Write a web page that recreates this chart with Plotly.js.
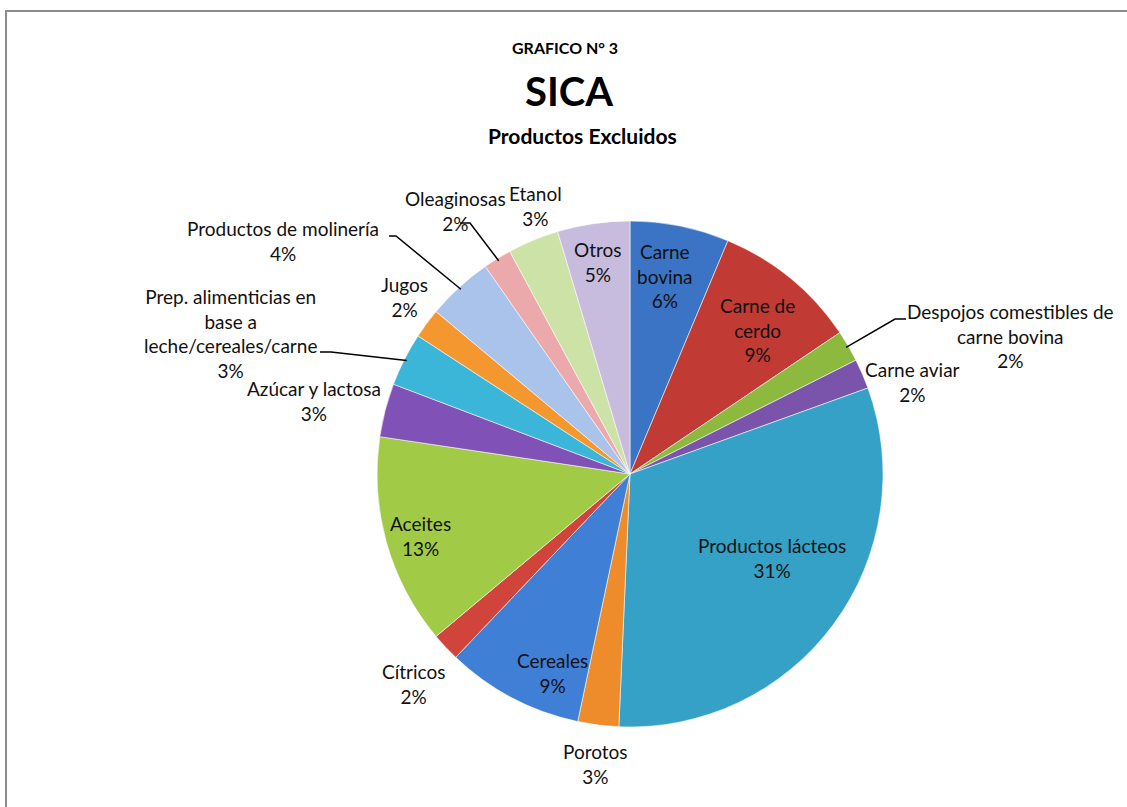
<!DOCTYPE html>
<html><head><meta charset="utf-8">
<script src="https://cdn.plot.ly/plotly-3.0.1.min.js"></script>
<style>html,body{margin:0;padding:0;background:#fff;overflow:hidden}#chart{width:1127px;height:807px}</style>
</head><body><div id="chart"></div>
<script>
// ---- data ----
const categories = ["Carne bovina","Carne de cerdo","Despojos comestibles de carne bovina","Carne aviar","Productos lácteos","Porotos","Cereales","Cítricos","Aceites","Azúcar y lactosa","Prep. alimenticias en base a leche/cereales/carne","Jugos","Productos de molinería","Oleaginosas","Etanol","Otros"];
const values = [6.3, 9.2, 2.0, 1.9, 31.1, 2.6, 8.75, 1.8, 13.4, 3.4, 3.4, 1.9, 4.2, 1.8, 3.25, 4.6];
const displayLabels = ["Carne<br>bovina","Carne de<br>cerdo","Despojos comestibles de<br>carne bovina","Carne aviar","Productos lácteos","Porotos","Cereales","Cítricos","Aceites","Azúcar y lactosa","Prep. alimenticias en<br>base a<br>leche/cereales/carne","Jugos","Productos de molinería","Oleaginosas","Etanol","Otros"];
const titleTop = "GRAFICO N° 3";
const titleMain = "SICA";
const titleSub = "Productos Excluidos";

// ---- style ----
const colors = ["#3B74C4","#C13A33","#8DB93E","#7A54AA","#35A1C6","#EE8B2B","#3F80D6","#D0443B","#A1CB47","#8051B7","#3BB5D8","#F4972E","#A9C3EB","#EBA9AB","#CDE2A6","#C8BCDE"];
const W = 1127, H = 807, CX = 630, CY = 474, R = 253;
const labelPos = [[665,276],[757,330],[1010,336],[912,382],[772,558],[595,764],[552,673],[413,684],[420,536],[314,401],[230,333],[404,297],[283,241],[455,211],[535,206],[598,262]];
const leaderElbows = {2:[[906,319],[895,319]], 10:[[320,352],[331,352]], 12:[[389,236],[396,236]], 13:[[460,223],[470,223]]};
const FONT = "Lato, 'Open Sans', sans-serif";

const px = x => x / W, py = y => 1 - y / H;
const total = values.reduce((a,b)=>a+b,0);

const annotations = [];
values.forEach((v,i)=>{
  const pct = Math.round(v/total*100) + '%';
  annotations.push({
    text: displayLabels[i] + '<br>' + pct,
    x: px(labelPos[i][0]), y: py(labelPos[i][1]), xref:'paper', yref:'paper',
    xanchor:'center', yanchor:'middle', align:'center', showarrow:false,
    font:{family:FONT, size:19, color:'#111'}
  });
});
annotations.push({text:'<b>'+titleTop+'</b>', x:px(565), y:py(48), xref:'paper', yref:'paper', xanchor:'center', yanchor:'middle', showarrow:false, font:{family:FONT,size:16,color:'#000'}});
annotations.push({text:'<b>'+titleSub+'</b>', x:px(582), y:py(135), xref:'paper', yref:'paper', xanchor:'center', yanchor:'middle', showarrow:false, font:{family:FONT,size:21,color:'#000'}});

const shapes = [{type:'path', xref:'paper', yref:'paper', path:`M ${px(6)} 0 L ${px(6)} ${py(11)} L 1 ${py(11)}`, line:{color:'#8c8c8c', width:2}}];
let cum = 0;
values.forEach((v,i)=>{
  const mid = (cum + v/2)/total * 2*Math.PI;
  cum += v;
  if (leaderElbows[i]) {
    const e = leaderElbows[i];
    const ex = CX + R*0.99*Math.sin(mid), ey = CY - R*0.99*Math.cos(mid);
    const path = `M ${px(e[0][0])} ${py(e[0][1])} L ${px(e[1][0])} ${py(e[1][1])} L ${px(ex)} ${py(ey)}`;
    shapes.push({type:'path', xref:'paper', yref:'paper', path:path, line:{color:'#000', width:1.5}});
  }
});

const trace = {
  type:'pie', labels:categories, values:values, sort:false, direction:'clockwise', rotation:0,
  marker:{colors:colors, line:{color:'rgba(255,255,255,0.55)', width:1}},
  textinfo:'none', hoverinfo:'label+percent', showlegend:false,
  domain:{x:[(CX-R)/W,(CX+R)/W], y:[(H-CY-R)/H,(H-CY+R)/H]}
};

const layout = {
  width:W, height:H, margin:{l:0,r:0,t:0,b:0},
  paper_bgcolor:'#fff', showlegend:false,
  title:{text:'<b>'+titleMain+'</b>', x:px(569), xanchor:'center', y:py(92), yanchor:'middle', yref:'container', font:{family:FONT,size:40,color:'#000'}},
  annotations:annotations, shapes:shapes
};
Plotly.newPlot('chart',[trace],layout,{displayModeBar:false,staticPlot:true});
</script></body></html>
